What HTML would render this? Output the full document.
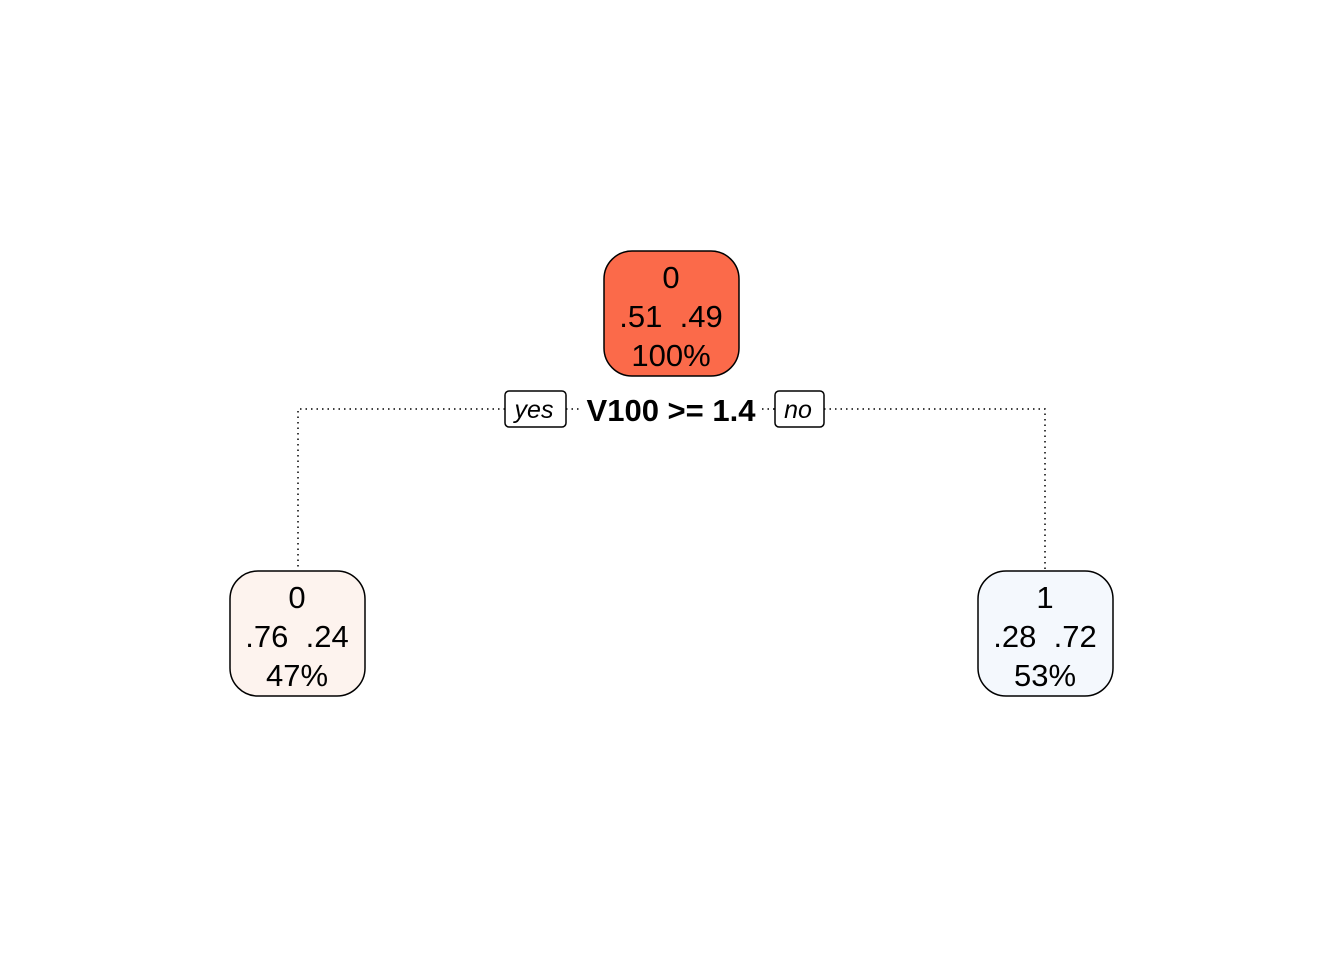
<!DOCTYPE html>
<html><head><style>body{margin:0;background:#fff}svg{display:block}</style></head><body>
<svg width="1344" height="960" xmlns="http://www.w3.org/2000/svg" font-family="Liberation Sans, sans-serif">
<g stroke="#000" stroke-width="1.5" stroke-dasharray="1.5,4" fill="none">
<path d="M505 409 H298 V571"/>
<path d="M824 409 H1045 V571"/>
<path d="M566 409 H580"/>
<path d="M762 409 H775"/>
</g>
<rect x="604" y="251" width="135" height="125" rx="28" fill="#FB6A4A" stroke="#000" stroke-width="1.5"/>
<rect x="230" y="571" width="135" height="125" rx="28" fill="#FDF3EE" stroke="#000" stroke-width="1.5"/>
<rect x="978" y="571" width="135" height="125" rx="28" fill="#F4F8FD" stroke="#000" stroke-width="1.5"/>
<rect x="505" y="391" width="61" height="36" rx="4" fill="#fff" stroke="#000" stroke-width="1.5"/>
<rect x="775" y="391" width="49" height="36" rx="4" fill="#fff" stroke="#000" stroke-width="1.5"/>
<g font-size="31" text-anchor="middle" fill="#000">
<text x="671" y="288">0</text><text x="671" y="327" xml:space="preserve">.51  .49</text><text x="671" y="366">100%</text>
<text x="297" y="608">0</text><text x="297" y="647" xml:space="preserve">.76  .24</text><text x="297" y="686">47%</text>
<text x="1045" y="608">1</text><text x="1045" y="647" xml:space="preserve">.28  .72</text><text x="1045" y="686">53%</text>
</g>
<text x="534" y="418" font-size="25" font-style="italic" text-anchor="middle">yes</text>
<text x="798" y="418" font-size="25" font-style="italic" text-anchor="middle">no</text>
<text x="671" y="421" font-size="31" font-weight="bold" text-anchor="middle">V100 &gt;= 1.4</text>
</svg>
</body></html>
